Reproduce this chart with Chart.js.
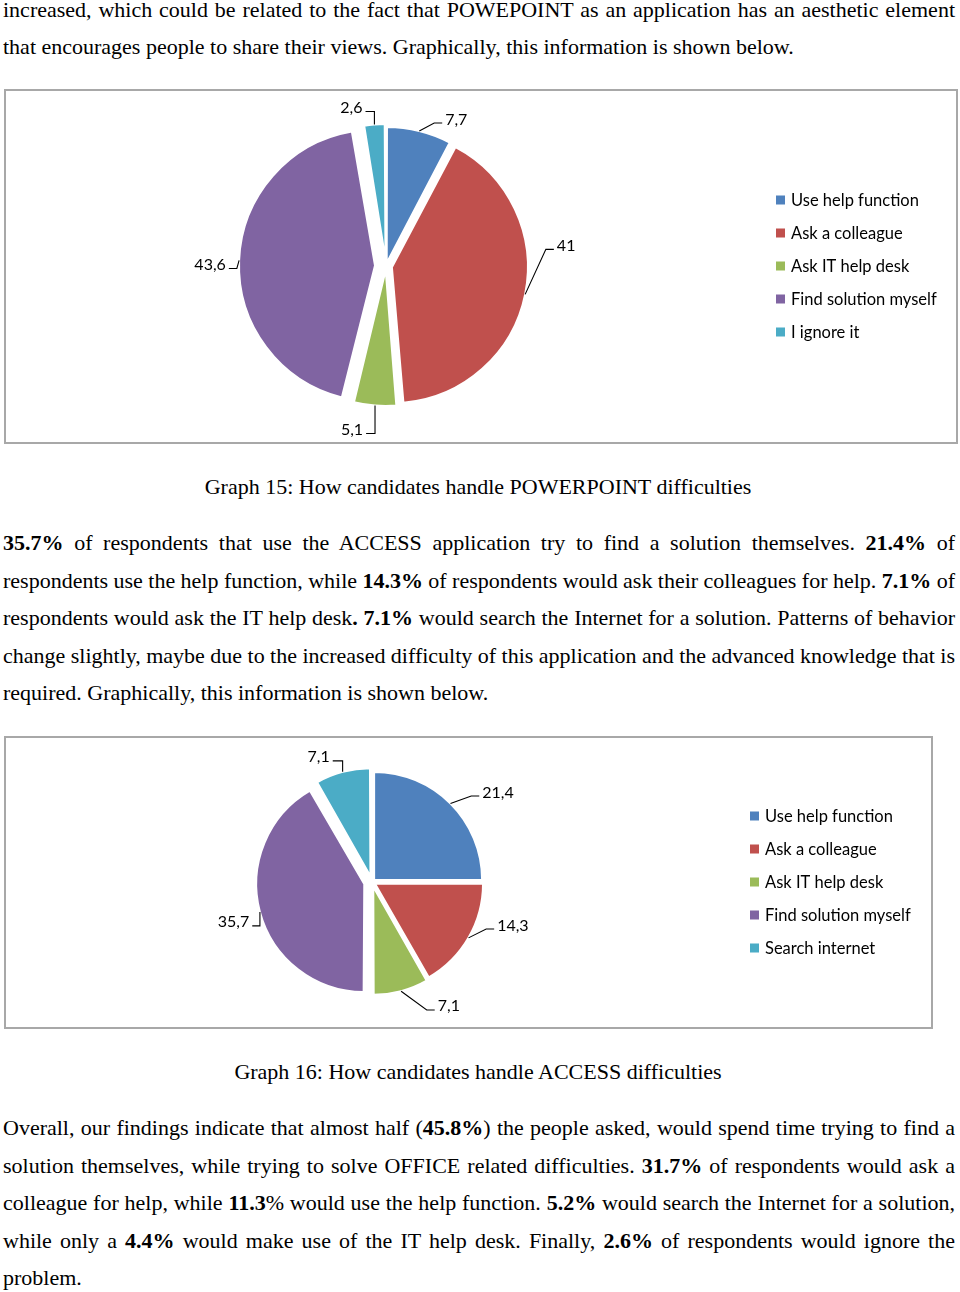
<!DOCTYPE html>
<html>
<head>
<meta charset="utf-8">
<script src="https://cdn.jsdelivr.net/npm/chart.js@4.4.1/dist/chart.umd.min.js"></script>
<style>
html,body{margin:0;padding:0;background:#fff;}
body{width:960px;height:1292px;position:relative;overflow:hidden;font-family:"Liberation Serif","Times New Roman",serif;font-size:22px;color:#000;}
.ln{position:absolute;left:3px;width:952px;height:37.5px;line-height:37.5px;white-space:nowrap;}
.j{text-align:justify;text-align-last:justify;white-space:normal;word-spacing:-2px;}
.cap{position:absolute;left:0;width:956px;height:37.5px;line-height:37.5px;text-align:center;white-space:nowrap;}
.box{position:absolute;border:2px solid #a8a8a8;}
.box canvas{display:block;}
</style>
</head>
<body>
<div class="ln j" style="top:-9.5px">increased, which could be related to the fact that POWEPOINT as an application has an aesthetic element</div>
<div class="ln" style="top:28px">that encourages people to share their views. Graphically, this information is shown below.</div>

<div class="box" style="left:4px;top:89px;width:950px;height:351px;"><canvas id="c1" width="950" height="351" style="width:950px;height:351px"></canvas></div>

<div class="cap" style="top:468px">Graph 15: How candidates handle POWERPOINT difficulties</div>

<div class="ln j" style="top:524px"><b>35.7%</b> of respondents that use the ACCESS application try to find a solution themselves. <b>21.4%</b> of</div>
<div class="ln j" style="top:561.5px">respondents use the help function, while <b>14.3%</b> of respondents would ask their colleagues for help. <b>7.1%</b> of</div>
<div class="ln j" style="top:599px">respondents would ask the IT help desk<b>.</b> <b>7.1%</b> would search the Internet for a solution. Patterns of behavior</div>
<div class="ln j" style="top:636.5px">change slightly, maybe due to the increased difficulty of this application and the advanced knowledge that is</div>
<div class="ln" style="top:674px">required. Graphically, this information is shown below.</div>

<div class="box" style="left:4px;top:736px;width:925px;height:289px;"><canvas id="c2" width="925" height="289" style="width:925px;height:289px"></canvas></div>

<div class="cap" style="top:1052.5px">Graph 16: How candidates handle ACCESS difficulties</div>

<div class="ln j" style="top:1109px">Overall, our findings indicate that almost half (<b>45.8%</b>) the people asked, would spend time trying to find a</div>
<div class="ln j" style="top:1146.5px">solution themselves, while trying to solve OFFICE related difficulties. <b>31.7%</b> of respondents would ask a</div>
<div class="ln j" style="top:1184px">colleague for help, while <b>11.3</b>% would use the help function. <b>5.2%</b> would search the Internet for a solution,</div>
<div class="ln j" style="top:1221.5px">while only a <b>4.4%</b> would make use of the IT help desk. Finally, <b>2.6%</b> of respondents would ignore the</div>
<div class="ln" style="top:1259px">problem.</div>

<script>
// ---- data ----
const categories1 = ['Use help function', 'Ask a colleague', 'Ask IT help desk', 'Find solution myself', 'I ignore it'];
const values1 = [7.7, 41, 5.1, 43.6, 2.6];

const categories2 = ['Use help function', 'Ask a colleague', 'Ask IT help desk', 'Find solution myself', 'Search internet'];
const values2 = [21.4, 14.3, 7.1, 35.7, 7.1];

const sliceColors = ['#4F81BD', '#C0504D', '#9BBB59', '#8064A2', '#4BACC6'];

// ---- styling ----
const labelFont = '16px Lato';
const legendFont = '16.5px Lato';
const fmt = v => String(v).replace('.', ',');

function excelPlugin(cfg) {
  return {
    id: 'excel',
    beforeDatasetsDraw(chart) {
      const meta = chart.getDatasetMeta(0);
      meta.data.forEach(arc => {
        const off = (arc.options.offset || 0) / 4;
        const fix = 1 - Math.sin(Math.min(Math.PI, arc.circumference));
        arc.outerRadius = cfg.radius - off * fix;
      });
    },
    afterDatasetsDraw(chart) {
      const ctx = chart.ctx;
      const meta = chart.getDatasetMeta(0);
      const ds = chart.data.datasets[0];
      ctx.save();
      ctx.font = labelFont;
      ctx.strokeStyle = '#000';
      ctx.lineWidth = 1.1;
      ctx.fillStyle = '#000';
      ctx.textBaseline = 'alphabetic';
      ctx.textAlign = 'center';
      meta.data.forEach((arc, i) => {
        const mid = (arc.startAngle + arc.endAngle) / 2;
        const t = (arc.options.offset || 0) / 4;
        const r = cfg.radius + t;
        const ax = arc.x + Math.cos(mid) * r;
        const ay = arc.y + Math.sin(mid) * r;
        const [dx, dy] = cfg.shifts[i];
        const lx = ax + dx, ly = ay + dy;
        const text = fmt(ds.data[i]);
        const w = ctx.measureText(text).width;
        ctx.fillText(text, lx, ly + 5.5);
        const side = dx < 0 ? 1 : -1;
        const hx = lx + side * (w / 2 + 3);
        const hy = ly + 4;
        const ex = Math.abs(ax - hx) <= 10 ? ax : hx + side * 8;
        ctx.beginPath();
        ctx.moveTo(hx, hy);
        ctx.lineTo(ex, hy);
        ctx.lineTo(ax, ay);
        ctx.stroke();
      });
      // legend
      ctx.font = legendFont;
      ctx.textAlign = 'left';
      chart.data.labels.forEach((lab, i) => {
        const y = cfg.legend.y + i * 33;
        ctx.fillStyle = sliceColors[i];
        ctx.fillRect(cfg.legend.x, y - 4.5, 9, 9);
        ctx.fillStyle = '#000';
        ctx.fillText(lab, cfg.legend.x + 15, y + 6);
      });
      ctx.restore();
    }
  };
}

function makePie(id, cats, vals, cfg) {
  return new Chart(document.getElementById(id), {
    type: 'pie',
    data: {
      labels: cats,
      datasets: [{
        data: vals,
        backgroundColor: sliceColors,
        borderColor: '#ffffff',
        borderWidth: 2,
        offset: cfg.explode,
        hoverOffset: 0
      }]
    },
    options: {
      responsive: false,
      animation: false,
      events: [],
      radius: cfg.radius,
      layout: { padding: cfg.padding },
      plugins: { legend: { display: false }, tooltip: { enabled: false } }
    },
    plugins: [excelPlugin(cfg)]
  });
}

makePie('c1', categories1, values1, {
  radius: 136,
  padding: { left: 0, right: 190, top: 0, bottom: 1 },
  explode: [12, 24, 16, 44, 24],
  shifts: [[37, -12], [41, -49], [-23, 24], [-29, 4], [-23, -17]],
  legend: { x: 770, y: 109 }
});

makePie('c2', categories2, values2, {
  radius: 108,
  padding: { left: 0, right: 193, top: 0, bottom: 1 },
  explode: [12, 14, 20, 32, 24],
  shifts: [[47.5, -11.5], [44.4, -12.8], [47.7, 14.8], [-26.4, 10], [-24, -15]],
  legend: { x: 744, y: 78 }
});
</script>
</body>
</html>
